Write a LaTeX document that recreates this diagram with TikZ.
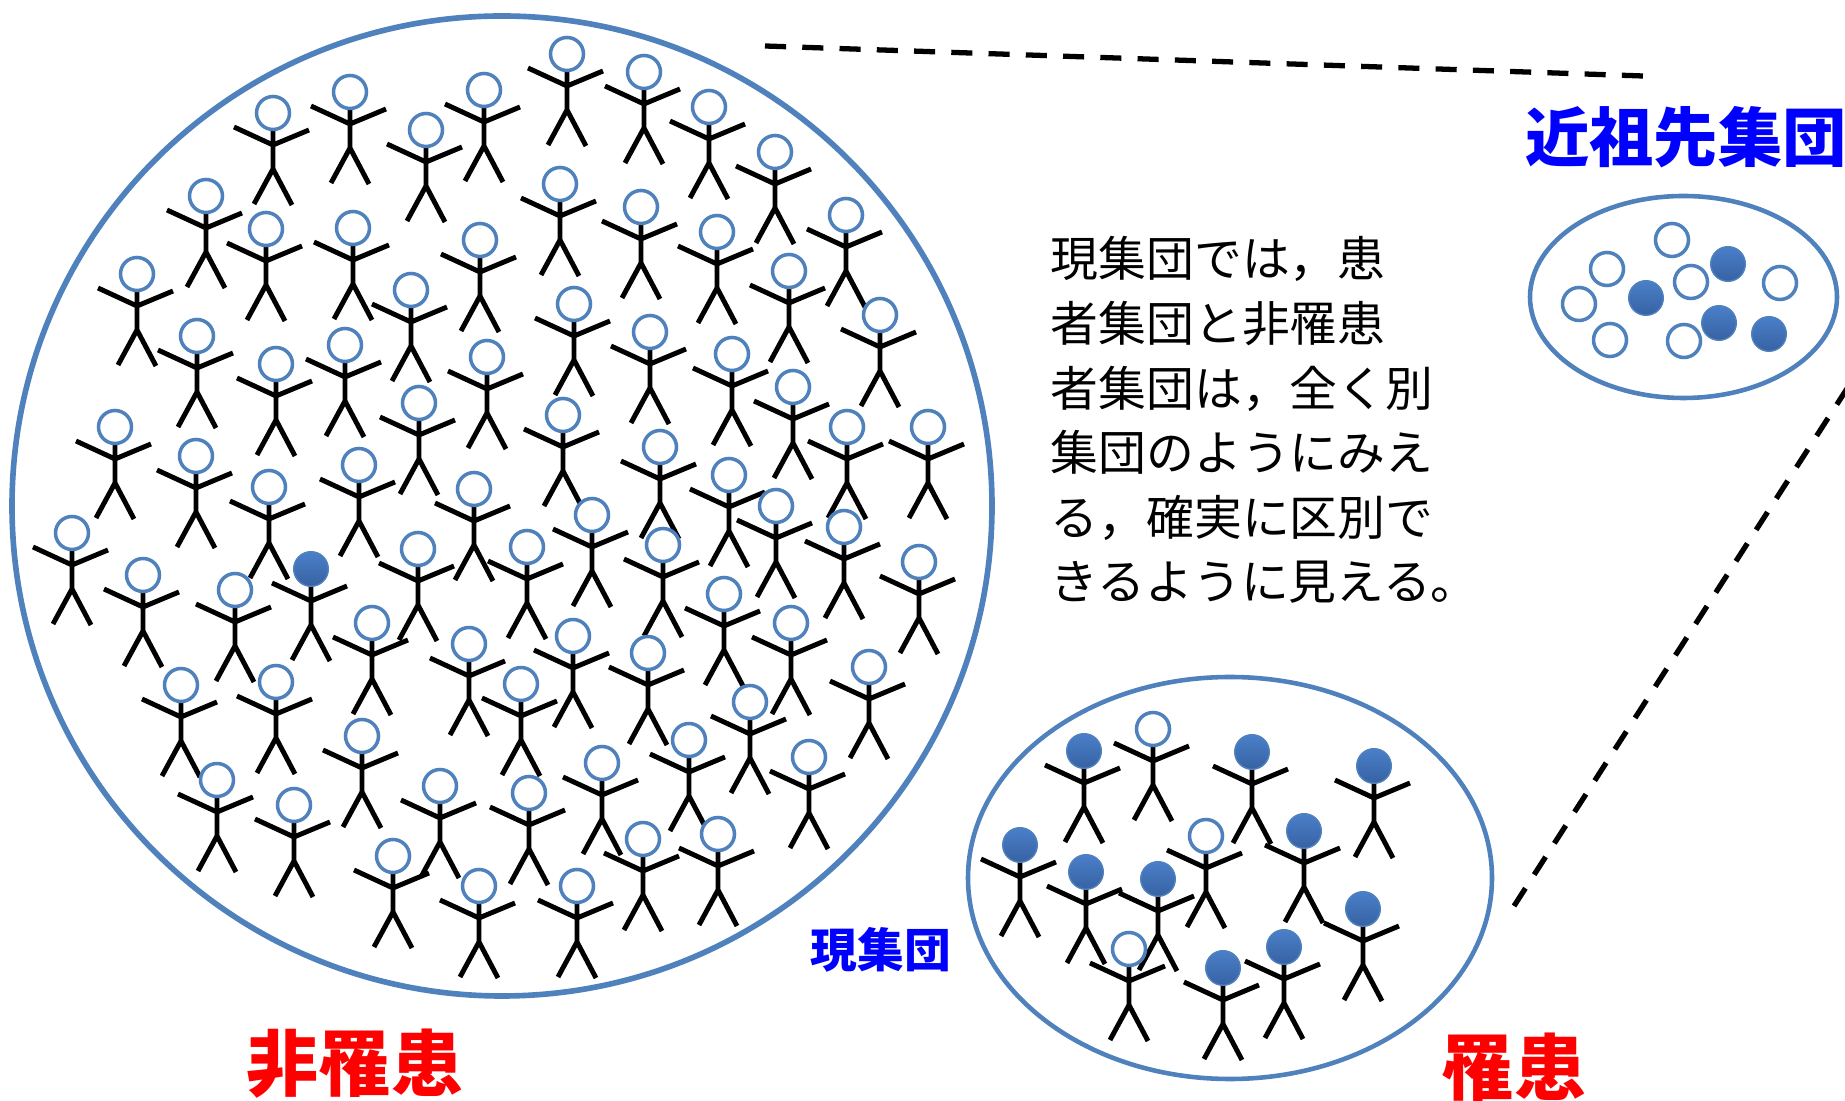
\documentclass[tikz,border=0pt]{standalone}
\usepackage{fontspec}
\newfontfamily\jp{Noto Sans CJK JP}
\usetikzlibrary{positioning}

\definecolor{rimblue}{HTML}{4F81BD}
\definecolor{headtop}{HTML}{4A7FC9}
\definecolor{headbot}{HTML}{3762A2}
\definecolor{titleblue}{HTML}{0000FF}
\definecolor{labelred}{HTML}{FF0000}

% body of one stick person, head centre at the origin
\newcommand\limbs{\draw[limb] (0,17) -- (0,56) (-39,14) -- (0,32) -- (36,17) (-19,91) -- (0,56) -- (19,92);}

\tikzset{
  limb/.style={line width=1.4pt},
  rim/.style={draw=rimblue, line width=1pt, fill=white},
  sick/.style={draw=rimblue, line width=0.4pt, top color=headtop, bottom color=headbot},
  ring/.style={draw=rimblue, line width=1.6pt},
  zoomline/.style={line width=1.5pt, dash pattern=on 6pt off 4.6pt},
  pics/well/.style={code={\limbs \draw[rim] (0,0) circle (16.5);}},
  pics/ill/.style={code={\limbs \path[sick] (0,0) circle (17.3);}},
}

\begin{document}
\begin{tikzpicture}[x=0.01cm, y=-0.01cm]

    \fill[white] (0,0) rectangle (1845,1101);
    \clip (0,0) rectangle (1845,1101);

    % present population
    \draw[ring] (502,506) circle (490);
    \foreach \x/\y in {273/113, 350/92, 484/90, 426/130, 206/196, 266/229, 353/228, 480/240,
        137/274, 411/290, 197/336, 276/364, 345/345, 487/357, 419/403, 115/427, 196/456,
        359/465, 269/487, 474/489, 567/54, 644/72, 709/107, 775/152, 560/184, 641/207,
        717/232, 846/215, 789/271, 574/304, 880/315, 650/332, 732/354, 793/387, 563/415,
        847/427, 928/427, 660/447, 729/475, 776/506, 72/533, 143/575, 235/590, 372/623,
        418/549, 469/644, 181/685, 276/682, 362/736, 217/780, 294/805, 440/786, 393/856,
        479/886, 592/515, 527/547, 663/545, 844/527, 919/562, 724/594, 791/623, 573/636,
        648/653, 521/684, 750/702, 869/667, 689/740, 602/763, 809/757, 529/793, 643/839,
        718/834, 577/886}
        \pic at (\x,\y) {well};
    \pic at (311,569) {ill};

    \node[font=\jp\bfseries\fontsize{13.3pt}{16pt}\selectfont, text=titleblue, inner sep=0pt] (nowname) at (881,950) {現集団};
    \node[font=\jp\bfseries\fontsize{20.5pt}{24pt}\selectfont, text=labelred, inner sep=0pt] (healthy) at (355,1064) {非罹患};

    % patients
    \draw[ring, line width=1.3pt] (1230,878) ellipse [x radius=262, y radius=201];
    \foreach \x/\y in {1084/751, 1252/752, 1374/766, 1020/845, 1086/872, 1158/879,
        1304/831, 1363/909, 1223/968, 1284/947}
        \pic at (\x,\y) {ill};
    \foreach \x/\y in {1153/729, 1206/836, 1129/949}
        \pic at (\x,\y) {well};
    \node[font=\jp\bfseries\fontsize{20.5pt}{24pt}\selectfont, text=labelred, inner sep=0pt] (patients) at (1514,1067) {罹患};

    % recent ancestral population
    \node[font=\jp\bfseries\fontsize{18.3pt}{22pt}\selectfont, text=titleblue, inner sep=0pt] (ancestor) at (1686,137) {近祖先集団};
    \draw[ring, line width=1.3pt] (1683.5,297) ellipse [x radius=153.5, y radius=101];
    \foreach \x/\y in {1672/240, 1607/269, 1691/282, 1780/283, 1579/304, 1610/340, 1684/341}
        \draw[rim] (\x,\y) circle (16.5);
    \foreach \x/\y in {1728/264, 1646/298, 1719/323, 1769/334}
        \path[sick] (\x,\y) circle (17.3);

    % explanation
    \node[font=\jp\fontsize{13.6pt}{18.35pt}\selectfont, align=left, anchor=north west, inner sep=0pt] (story) at (1050,236)
        {現集団では，患\\者集団と非罹患\\者集団は，全く別\\集団のようにみえ\\る，確実に区別で\\きるように見える。};

    % zoom lines
    \coordinate (topL) at (765,46);
    \coordinate (topR) at (1643,76);
    \coordinate (diagL) at (1514,906);
    \coordinate (diagR) at (1850,384);
    \draw[zoomline] (topL) -- (topR);
    \draw[zoomline] (diagL) -- (diagR);

\end{tikzpicture}
\end{document}
